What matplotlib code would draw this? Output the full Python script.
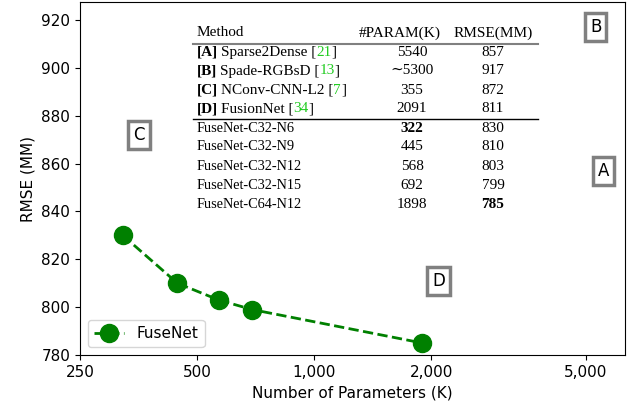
import matplotlib

matplotlib.use("Agg")
import matplotlib.pyplot as plt
from matplotlib.ticker import FixedLocator, NullLocator

# FuseNet variants
fusenet_params = [322, 445, 568, 692, 1898]
fusenet_rmse = [830, 810, 803, 799, 785]

# other methods (letter boxes)
other_letters = ["A", "B", "C", "D"]
other_params = [5540, 5300, 355, 2091]
other_rmse = [857, 917, 872, 811]

x_ticks = [250, 500, 1000, 2000, 5000]
x_ticklabels = ["250", "500", "1,000", "2,000", "5,000"]
y_ticks = [780, 800, 820, 840, 860, 880, 900, 920]

# table contents
table_top = [
    ("[A]", "Sparse2Dense", "21", "5540", "857"),
    ("[B]", "Spade-RGBsD", "13", "\u223c5300", "917"),
    ("[C]", "NConv-CNN-L2", "7", "355", "872"),
    ("[D]", "FusionNet", "34", "2091", "811"),
]
table_bottom = [
    ("FuseNet-C32-N6", "322", "830"),
    ("FuseNet-C32-N9", "445", "810"),
    ("FuseNet-C32-N12", "568", "803"),
    ("FuseNet-C32-N15", "692", "799"),
    ("FuseNet-C64-N12", "1898", "785"),
]

W, H = 628, 411
fig = plt.figure(figsize=(W / 100, H / 100), dpi=100)
ax = fig.add_axes([80 / W, 56 / H, 545 / W, 353 / H])

ax.plot(fusenet_params, fusenet_rmse, "--o", color="green", lw=2, ms=13, label="FuseNet")
ax.set_xscale("log")
ax.set_xlim(250, 6300)
ax.set_ylim(780, 927.5)
ax.xaxis.set_major_locator(FixedLocator(x_ticks))
ax.xaxis.set_minor_locator(NullLocator())
ax.set_xticklabels(x_ticklabels)
ax.set_yticks(y_ticks)
ax.tick_params(labelsize=11)
ax.set_xlabel("Number of Parameters (K)", fontsize=11)
ax.set_ylabel("RMSE (MM)", fontsize=11)
ax.legend(loc="lower left", fontsize=11)

for letter, p, r in zip(other_letters, other_params, other_rmse):
    ax.text(p, r, letter, ha="center", va="center", fontsize=12,
            bbox=dict(boxstyle="square,pad=0.3", fc="white", ec="gray", lw=2.5))

# table drawn in figure pixel coordinates
serif = ["Liberation Serif", "DejaVu Serif"]
fs = 11
fs_name = 10.3


def fy(py):
    return 1 - py / H


x_method = 197 / W
x_param = 412 / W
x_rmse = 493 / W
for x, label, ha in [(x_method, "Method", "left"), (400 / W, "#PARAM(K)", "center"),
                     (x_rmse, "RMSE(MM)", "center")]:
    fig.text(x, fy(33), label, family=serif, fontsize=fs, va="center", ha=ha)
fig.add_artist(plt.Line2D([193 / W, 538 / W], [fy(44), fy(44)], color="gray", lw=1.5))
fig.add_artist(plt.Line2D([193 / W, 538 / W], [fy(119), fy(119)], color="black", lw=1.0))

row_y = 52
renderer = fig.canvas.get_renderer()
for tag, name, ref, param, rmse in table_top:
    t = fig.text(x_method, fy(row_y), tag, family=serif, fontsize=fs, va="center", weight="bold")
    bb = t.get_window_extent(renderer)
    t2 = fig.text(bb.x1 / W + 3 / W, fy(row_y), name + " [", family=serif, fontsize=fs, va="center")
    bb = t2.get_window_extent(renderer)
    t3 = fig.text(bb.x1 / W, fy(row_y), ref, family=serif, fontsize=fs, va="center", color="#22cc22")
    bb = t3.get_window_extent(renderer)
    fig.text(bb.x1 / W, fy(row_y), "]", family=serif, fontsize=fs, va="center")
    fig.text(x_param, fy(row_y), param, family=serif, fontsize=fs, va="center", ha="center")
    fig.text(x_rmse, fy(row_y), rmse, family=serif, fontsize=fs, va="center", ha="center")
    row_y += 19

row_y = 128
best_param = min(int(r[1]) for r in table_bottom)
best_rmse = min(int(r[2]) for r in table_bottom)
for name, param, rmse in table_bottom:
    fig.text(x_method, fy(row_y), name, family=serif, fontsize=fs_name, va="center")
    fig.text(x_param, fy(row_y), param, family=serif, fontsize=fs, va="center", ha="center",
             weight="bold" if int(param) == best_param else "normal")
    fig.text(x_rmse, fy(row_y), rmse, family=serif, fontsize=fs, va="center", ha="center",
             weight="bold" if int(rmse) == best_rmse else "normal")
    row_y += 19

fig.savefig("out.png", dpi=100)
